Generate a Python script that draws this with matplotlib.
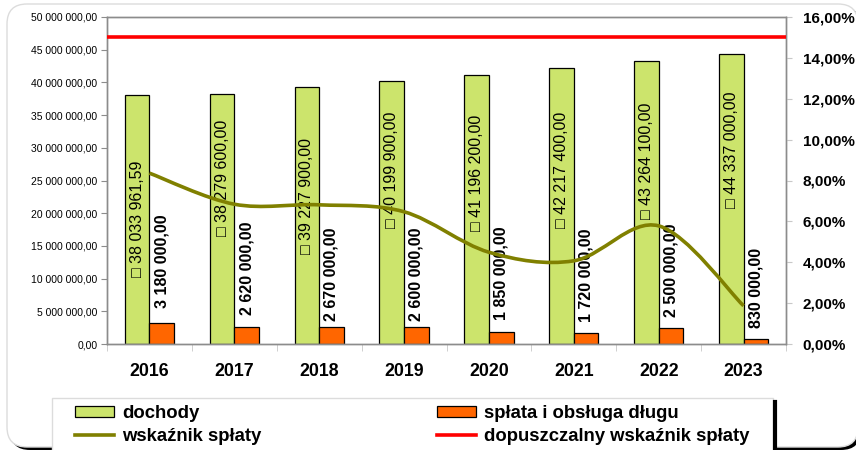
import numpy as np
import matplotlib
matplotlib.use('Agg')
import matplotlib.pyplot as plt
from matplotlib.patches import Patch, Rectangle, FancyBboxPatch, PathPatch
from matplotlib.lines import Line2D
from matplotlib.path import Path
from matplotlib.transforms import IdentityTransform
from matplotlib.ticker import FuncFormatter

# ---------------- data ----------------
years = ['2016', '2017', '2018', '2019', '2020', '2021', '2022', '2023']
dochody = [38033961.59, 38279600.00, 39227900.00, 40199900.00,
           41196200.00, 42217400.00, 43264100.00, 44337000.00]
splata = [3180000.00, 2620000.00, 2670000.00, 2600000.00,
          1850000.00, 1720000.00, 2500000.00, 830000.00]
wskaznik = [8.36, 6.84, 6.81, 6.47, 4.49, 4.07, 5.78, 1.87]   # %
dopuszczalny = 15.0                                             # %

# label anchor heights (left-axis units)
dochody_label_y = [19.1e6, 25.4e6, 22.6e6, 26.6e6, 26.1e6, 26.6e6, 28.0e6, 29.7e6]
splata_label_y = [5.5e6, 4.43e6, 3.5e6, 3.5e6, 3.67e6, 3.36e6, 4.13e6, 2.45e6]

GREEN = '#CCE46C'
ORANGE = '#FF6600'
OLIVE = '#808000'
RED = '#FF0000'
GRAY = '#8c8c8c'

plt.rcParams['font.family'] = ['Liberation Sans', 'DejaVu Sans']


def pl(v):
    s = f'{v:,.2f}'
    return s.replace(',', ' ').replace('.', ',')


fig = plt.figure(figsize=(8.56, 4.5), dpi=100)
fig.patch.set_facecolor('white')

# outer rounded border with shadow
shadow = FancyBboxPatch((10, 0), 851, 443, boxstyle='round,pad=0,rounding_size=20',
                        transform=IdentityTransform(), fc='black', ec='black', lw=0, zorder=-5)
border = FancyBboxPatch((7, 3), 851, 443, boxstyle='round,pad=0,rounding_size=20',
                        transform=IdentityTransform(), fc='white', ec='#dcdcdc', lw=1, zorder=-4)
fig.add_artist(shadow)
fig.add_artist(border)

ax = fig.add_axes([107 / 856, 106 / 450, 679 / 856, 327 / 450])
ax.set_xlim(-0.5, 7.5)
ax.set_ylim(0, 50e6)
x = np.arange(len(years))
w = 0.29
ax.bar(x - w / 2, dochody, w, color=GREEN, edgecolor='black', lw=0.9, zorder=2)
ax.bar(x + w / 2, splata, w, color=ORANGE, edgecolor='black', lw=0.9, zorder=2)

for i in range(len(years)):
    ax.text(x[i] - w / 2, dochody_label_y[i], '\u25a1 ' + pl(dochody[i]), rotation=90,
            ha='center', va='center', fontsize=11.5, zorder=3)
    ax.text(x[i] + w / 2, splata_label_y[i], pl(splata[i]), rotation=90,
            ha='center', va='bottom', fontsize=11.5, fontweight='bold', zorder=3)

ax.set_yticks(np.arange(0, 50e6 + 1, 5e6))
ax.yaxis.set_major_formatter(FuncFormatter(lambda v, p: pl(v)))
ax.tick_params(axis='y', length=4, color=GRAY, labelsize=7.5, pad=3)
ax.set_xticks(x)
ax.set_xticklabels(years, fontweight='bold', fontsize=12.8)
ax.set_xticks(np.arange(-0.5, 8, 1), minor=True)
ax.tick_params(axis='x', which='major', length=0, pad=14)
ax.tick_params(axis='x', which='minor', length=5, color='#c8c8c8')
for s in ax.spines.values():
    s.set_color(GRAY)
    s.set_linewidth(1)

ax2 = ax.twinx()
ax2.set_ylim(0, 16)
ax2.set_yticks(np.arange(0, 17, 2))
ax2.set_yticklabels([f'{v:.2f}'.replace('.', ',') + '%' for v in np.arange(0, 17, 2)],
                    fontweight='bold', fontsize=11)
ax2.tick_params(axis='y', length=4, color='#c8c8c8', pad=8)
for s in ax2.spines.values():
    s.set_color(GRAY)
    s.set_linewidth(1)

# smoothed line (Bezier path through the data points)
pts = np.column_stack([x, wskaznik]).astype(float)
n = len(pts)
verts = [pts[0]]
codes = [Path.MOVETO]
for i in range(n - 1):
    p0 = pts[i - 1] if i > 0 else pts[i]
    p1 = pts[i]
    p2 = pts[i + 1]
    p3 = pts[i + 2] if i + 2 < n else pts[i + 1]
    verts += [p1 + (p2 - p0) / 6, p2 - (p3 - p1) / 6, p2]
    codes += [Path.CURVE4] * 3
ax2.add_patch(PathPatch(Path(verts, codes), fill=False, ec=OLIVE, lw=2.6,
                        capstyle='butt', zorder=4))
ax2.axhline(dopuszczalny, color=RED, lw=2.6, zorder=4)

# legend
fig.add_artist(Rectangle((52, -5), 721, 57, transform=IdentityTransform(),
                         fc='white', ec='#dcdcdc', lw=1, zorder=1))
fig.add_artist(Line2D([775, 775], [0, 48], transform=IdentityTransform(),
                      color='black', lw=3, zorder=1))
h1 = Patch(fc=GREEN, ec='black', lw=0.9)
h2 = Line2D([], [], color=OLIVE, lw=2.6)
h3 = Patch(fc=ORANGE, ec='black', lw=0.9)
h4 = Line2D([], [], color=RED, lw=2.6)
common = dict(loc='upper left', frameon=False, borderpad=0, borderaxespad=0,
              handlelength=2.1, handleheight=0.5, handletextpad=0.45,
              labelspacing=0.3, prop={'weight': 'bold', 'size': 13.3})
fig.legend([h1, h2], ['dochody', 'wskaźnik spłaty'],
           bbox_to_anchor=(75 / 856, 1 - 405 / 450), **common)
fig.legend([h3, h4], ['spłata i obsługa długu', 'dopuszczalny wskaźnik spłaty'],
           bbox_to_anchor=(437 / 856, 1 - 405 / 450), **common)

fig.savefig('out.png', dpi=100)
